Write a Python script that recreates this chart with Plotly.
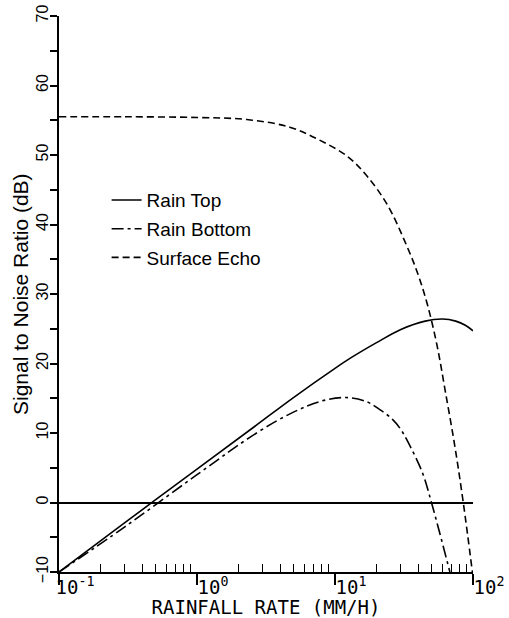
import plotly.graph_objects as go

# Rainfall rate (mm/h) and signal-to-noise ratio (dB)
top_rate = [0.1, 0.3, 1, 2.6, 5, 10, 13, 20, 30, 45, 60, 75, 88, 100]
top_snr = [-10, -2.9, 4.8, 10.9, 15.1, 19.3, 20.8, 23.0, 24.9, 26.1, 26.4, 26.1, 25.5, 24.7]

bot_rate = [0.1, 0.3, 1, 2.7, 5, 8, 12, 17, 21, 26, 30, 34, 43, 50, 68]
bot_snr = [-10, -3.5, 4.0, 10.0, 13.0, 14.6, 15.1, 14.5, 13.4, 12.0, 10.5, 8.6, 4.3, 0, -10]

srf_rate = [0.1, 0.3, 1, 2.3, 4.7, 7.8, 12.3, 17, 24, 33, 40, 47, 55, 63, 74, 85, 99]
srf_snr = [55.5, 55.5, 55.4, 55.1, 54.0, 52.1, 49.8, 47.0, 42.8, 37.0, 32.8, 28.3, 22.5, 16.0, 8.0, 0, -10]

x_tickvals = [0.1, 1, 10, 100]
x_ticktext = ["10<sup>-1</sup>", "10<sup>0</sup>", "10<sup>1</sup>", "10<sup>2</sup>"]
x_minorvals = [m * d for d in (0.1, 1, 10) for m in range(2, 10)]

fig = go.Figure()
fig.add_trace(go.Scatter(x=top_rate, y=top_snr, mode="lines", name="Rain Top",
                         line=dict(color="black", width=1.6, shape="spline", smoothing=1.0),
                         legendgroup="a"))
fig.add_trace(go.Scatter(x=bot_rate, y=bot_snr, mode="lines", name="Rain Bottom",
                         line=dict(color="black", width=1.6, shape="spline", smoothing=1.0,
                                   dash="12px,4px,3px,4px"),
                         legendgroup="b"))
fig.add_trace(go.Scatter(x=srf_rate, y=srf_snr, mode="lines", name="Surface Echo",
                         line=dict(color="black", width=1.6, shape="spline", smoothing=1.0,
                                   dash="7px,4px"),
                         legendgroup="c"))

fig.update_layout(
    width=509, height=618,
    margin=dict(l=59, r=36, t=16, b=46, autoexpand=False),
    paper_bgcolor="white", plot_bgcolor="white",
    font=dict(family="Liberation Sans", color="black"),
    showlegend=True,
    legend=dict(x=0.115, y=0.703, xanchor="left", yanchor="top",
                font=dict(size=19, family="Liberation Sans"),
                bgcolor="rgba(0,0,0,0)", tracegroupgap=1),
    annotations=[dict(text="Signal to Noise Ratio (dB)", xref="paper", yref="paper",
                      x=0, y=0.5, xshift=-39, textangle=-90, showarrow=False,
                      xanchor="center", yanchor="middle",
                      font=dict(family="Liberation Sans", size=21))],
)
fig.update_xaxes(
    type="log", range=[-1, 2.0], automargin=False,
    tickvals=x_tickvals, ticktext=x_ticktext,
    tickfont=dict(family="DejaVu Sans Mono", size=19),
    ticklabelshift=16, ticklabelstandoff=-14,
    ticks="outside", ticklen=11, tickwidth=1.5, tickcolor="black",
    minor=dict(tickvals=x_minorvals, ticks="inside", ticklen=8, tickwidth=1.2,
               tickcolor="black", showgrid=False),
    showline=True, linecolor="black", linewidth=2,
    showgrid=False, zeroline=False,
    title=dict(text="RAINFALL RATE (MM/H)", font=dict(family="DejaVu Sans Mono", size=19),
               standoff=0),
)
fig.update_yaxes(
    range=[-10, 70], dtick=10, tick0=0, automargin=False,
    tickangle=-90, tickfont=dict(family="Liberation Sans", size=16),
    ticklabelstandoff=-4,
    ticks="outside", ticklen=7, tickwidth=1.5, tickcolor="black",
    minor=dict(dtick=5, ticks="outside", ticklen=7, tickwidth=1.5, tickcolor="black", showgrid=False),
    showline=True, linecolor="black", linewidth=2,
    showgrid=False,
    zeroline=True, zerolinecolor="black", zerolinewidth=1.6,
)

fig.write_html("out.html")
